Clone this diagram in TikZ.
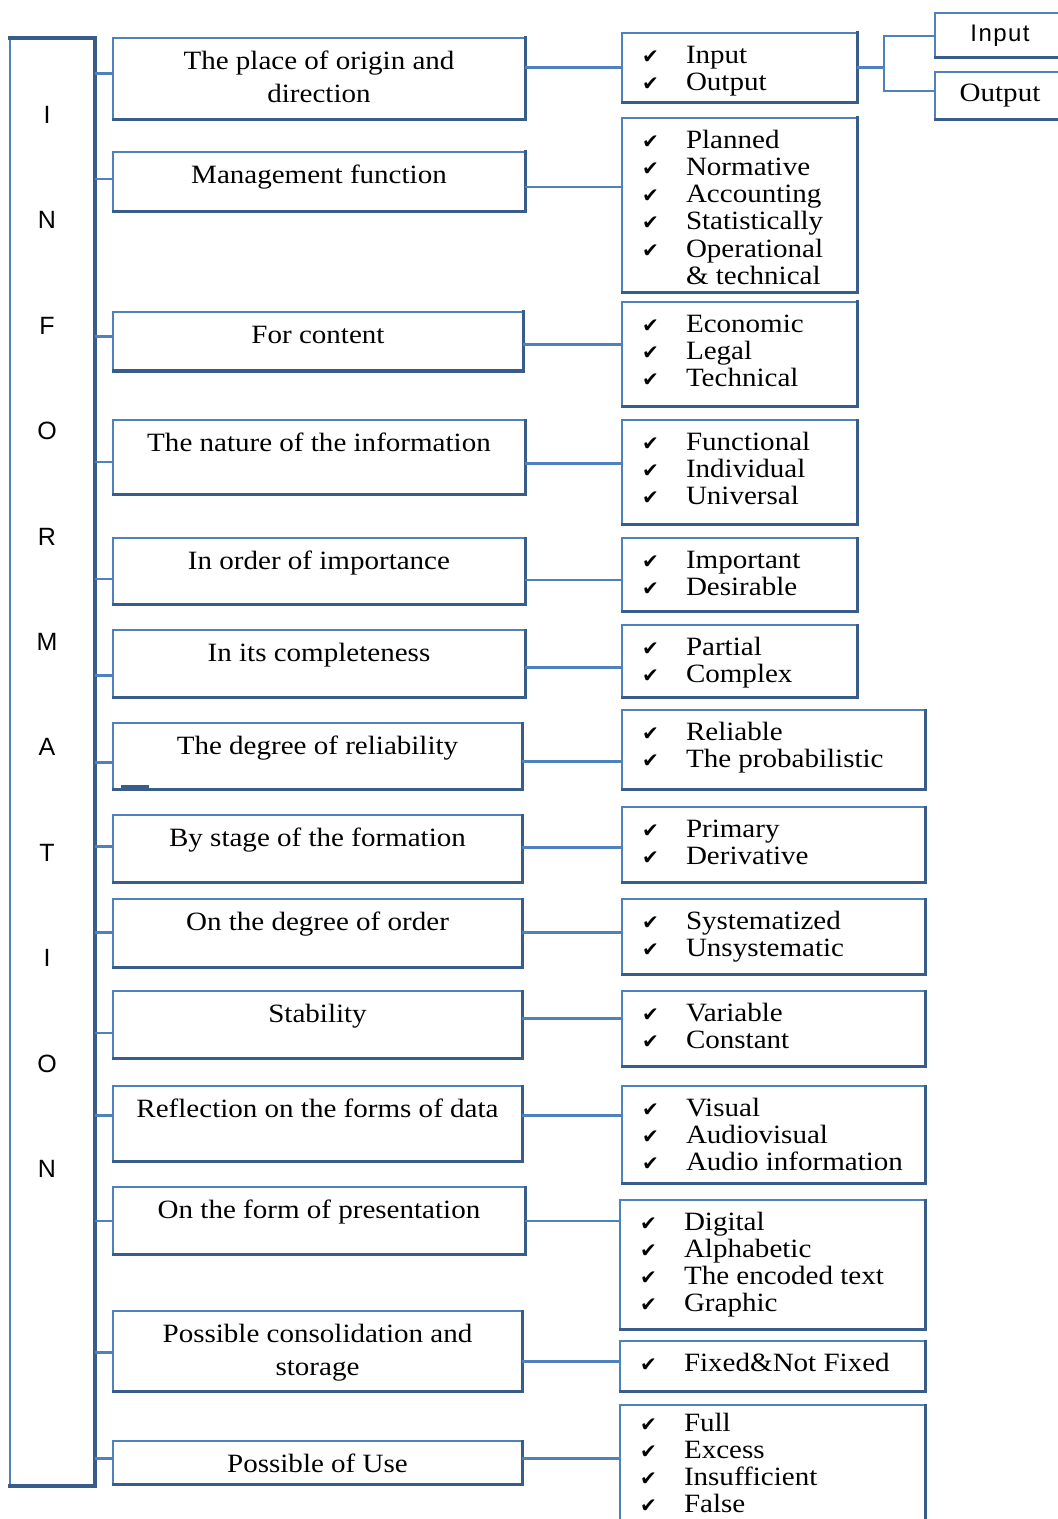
\documentclass[tikz,border=0pt]{standalone}
\usepackage{fontspec}
\setmainfont{Liberation Serif}[FakeStretch=1.1]
\newfontfamily\barfont{Liberation Sans}
\newfontfamily\tickfont{DejaVu Sans}
\definecolor{boxblue}{RGB}{79,129,189}
\definecolor{boxdark}{RGB}{56,93,138}
\definecolor{linkblue}{RGB}{79,129,189}

\tikzset{
  frame/.style={draw=boxblue, line width=0.8pt, fill=white, inner sep=0pt, outer sep=0pt, anchor=north west},
  edgedark/.style={draw=boxdark, line width=1.5pt, line cap=rect},
  linkthin/.style={draw=linkblue, line width=0.7pt},
  linkthick/.style={draw=linkblue, line width=1.5pt},
  letter/.style={font=\barfont\fontsize{12.5}{14}\selectfont, inner sep=0pt},
}

% category box: name, left, top, right, bottom, text (top aligned, centred)
\newcommand{\catnode}[6]{%
  \node[frame] (#1) at (#2,#3)
    {\parbox[c][\dimexpr(#5pt-#3pt)/2\relax][t]{\dimexpr(#4pt-#2pt)/2\relax}{%
      \centering\fontsize{13.2}{16.25}\selectfont\vspace*{4.6pt}#6\par}};}
% option box: [top gap], name, left, top, right, bottom, ticked lines
\newcommand{\optnode}[7][5.6pt]{%
  \node[frame] (#2) at (#3,#4)
    {\parbox[c][\dimexpr(#6pt-#4pt)/2\relax][t]{\dimexpr(#5pt-#3pt)/2\relax}{%
      \raggedright\fontsize{13.2}{13.6}\selectfont\vspace*{#1}#7\par\vss}};}
\newcommand{\ck}[1]{\strut\hspace*{10pt}\makebox[22pt][l]{\tickfont\fontsize{10}{10}\selectfont ✔}#1}

\begin{document}
\begin{tikzpicture}[x=0.5pt,y=-0.5pt]
\useasboundingbox (0,0) rectangle (1058,1519);
\begin{scope}
\clip (0,0) rectangle (1058,1519);
\fill[white] (0,0) rectangle (1058,1519);

% vertical INFORMATION bar
\node[frame, minimum width=42.5pt, minimum height=724pt] (bar) at (10,38) {};
\draw[edgedark, line width=2.4pt] (bar.north west) -- (bar.north east) -- (bar.south east) -- (bar.south west);
\foreach \c/\y [count=\k] in {I/115,N/220,F/326,O/431,R/537,M/642,A/747,T/853,I/958,O/1064,N/1169}
  \node[letter] (l\k) at (47,\y) {\c};

% classification criteria
\catnode{m1}{113}{38}{525}{120}{\strut The place of origin and\\\strut direction}
\catnode{m2}{113}{152}{525}{212}{\strut Management function}
\catnode{m3}{113}{312}{523}{371}{\strut For content}
\catnode{m4}{113}{420}{525}{494}{\strut The nature of the information}
\catnode{m5}{113}{538}{525}{604}{\strut In order of importance}
\catnode{m6}{113}{630}{525}{697}{\strut In its completeness}
\catnode{m7}{113}{723}{522}{789}{\strut The degree of reliability}
\catnode{m8}{113}{815}{522}{882}{\strut By stage of the formation}
\catnode{m9}{113}{899}{522}{967}{\strut On the degree of order}
\catnode{m10}{113}{991}{522}{1058}{\strut Stability}
\catnode{m11}{113}{1086}{522}{1161}{\strut Reflection on the forms of data}
\catnode{m12}{113}{1187}{525}{1254}{\strut On the form of presentation}
\catnode{m13}{113}{1311}{522}{1391}{\strut Possible consolidation and\\\strut storage}
\catnode{m14}{113}{1441}{522}{1484}{\strut Possible of Use}

% kinds of information
\optnode{r1}{622}{33}{857}{103}{\ck{Input}\\\ck{Output}}
\optnode{r2}{622}{118}{857}{293}{\ck{Planned}\\\ck{Normative}\\\ck{Accounting}\\\ck{Statistically}\\\ck{Operational}\\\strut\hspace*{32pt}\& technical}
\optnode{r3}{622}{302}{857}{406}{\ck{Economic}\\\ck{Legal}\\\ck{Technical}}
\optnode{r4}{622}{420}{857}{524}{\ck{Functional}\\\ck{Individual}\\\ck{Universal}}
\optnode{r5}{622}{538}{857}{611}{\ck{Important}\\\ck{Desirable}}
\optnode{r6}{622}{625}{857}{697}{\ck{Partial}\\\ck{Complex}}
\optnode{r7}{622}{710}{925}{789}{\ck{Reliable}\\\ck{The probabilistic}}
\optnode{r8}{622}{807}{925}{882}{\ck{Primary}\\\ck{Derivative}}
\optnode{r9}{622}{899}{925}{974}{\ck{Systematized}\\\ck{Unsystematic}}
\optnode{r10}{622}{991}{925}{1066}{\ck{Variable}\\\ck{Constant}}
\optnode{r11}{622}{1086}{925}{1183}{\ck{Visual}\\\ck{Audiovisual}\\\ck{Audio information}}
\optnode{r12}{620}{1200}{925}{1329}{\ck{Digital}\\\ck{Alphabetic}\\\ck{The encoded text}\\\ck{Graphic}}
\optnode{r13}{620}{1341}{925}{1391}{\ck{Fixed\&Not Fixed}}
\optnode[3.6pt]{r14}{620}{1405}{925}{1535}{\ck{Full}\\\ck{Excess}\\\ck{Insufficient}\\\ck{False}}

% direction boxes
\node[frame] (inp) at (935,13) {\parbox[c][22.5pt][c]{65pt}{\centering\barfont\addfontfeatures{LetterSpace=6}\fontsize{12}{14}\selectfont Input}};
\node[frame] (outp) at (935,72) {\parbox[c][24pt][c]{65pt}{\centering\fontsize{13.2}{14}\selectfont Output}};

% darker right and bottom edges
\foreach \i in {1,...,14}{
  \draw[edgedark] (m\i.north east) -- (m\i.south east) -- (m\i.south west);
  \draw[edgedark] (r\i.north east) -- (r\i.south east) -- (r\i.south west);
}
\foreach \n in {inp,outp}
  \draw[edgedark] (\n.north east) -- (\n.south east) -- (\n.south west);
\draw[edgedark] ([xshift=4.5pt,yshift=1.5pt]m7.south west) -- ++(25,0);

% connectors: bar -> criterion -> kinds
\foreach \i/\yl/\sl/\yr/\sr in {
  1/74/linkthick/68/linkthick, 2/179/linkthin/187/linkthin,
  3/337/linkthick/345/linkthick, 4/462/linkthin/463/linkthick,
  5/579/linkthin/580/linkthin, 6/675/linkthick/667/linkthick,
  7/762/linkthick/761/linkthick, 8/846/linkthick/847/linkthick,
  9/932/linkthick/932/linkthick, 10/1033/linkthin/1018/linkthick,
  11/1115/linkthick/1115/linkthick, 12/1221/linkthin/1221/linkthin,
  13/1352/linkthick/1361/linkthick, 14/1458/linkthick/1458/linkthick}{
  \draw[\sl] (bar.east |- 0,\yl) -- (m\i.west |- 0,\yl);
  \draw[\sr] (m\i.east |- 0,\yr) -- (r\i.west |- 0,\yr);
}

% input / output split
\coordinate (jn) at (884,68);
\draw[linkthick] (r1.east |- jn) -- (jn);
\draw[linkthin] (inp.west |- 0,36) -| (jn) |- (outp.west |- 0,91);
\end{scope}
\end{tikzpicture}
\end{document}
